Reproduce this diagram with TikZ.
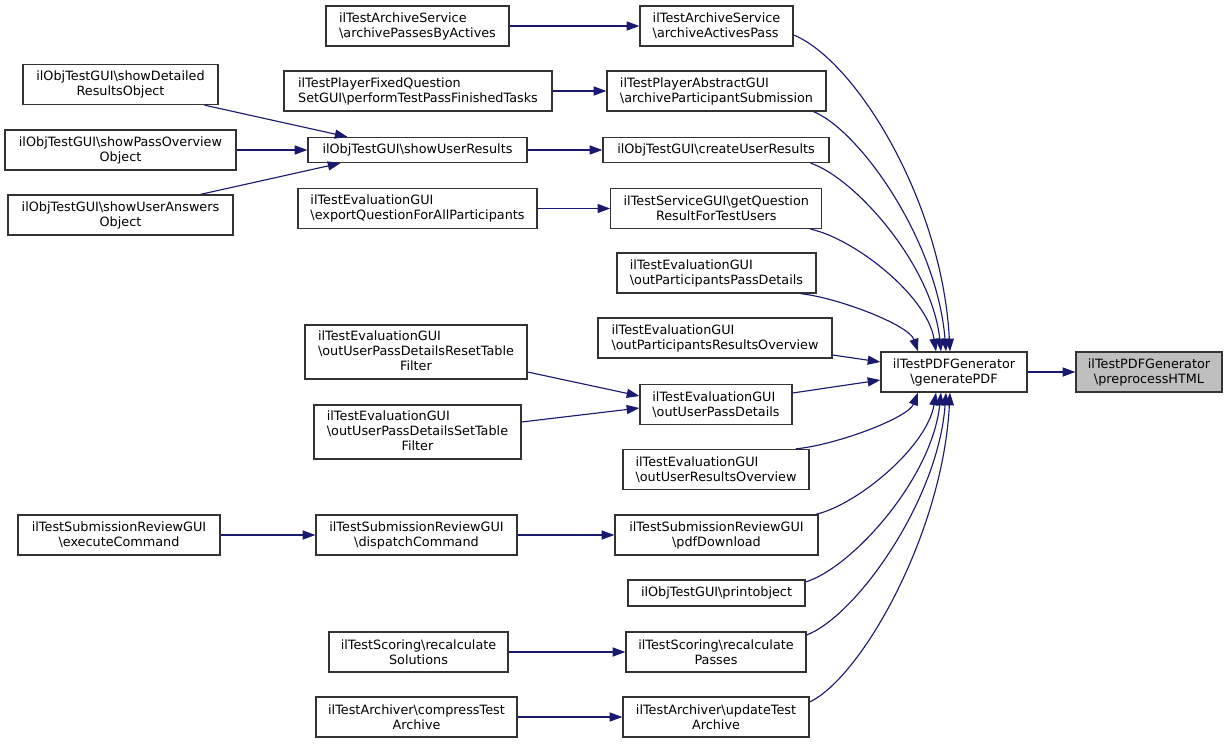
\documentclass[tikz,border=0pt]{standalone}
\usepackage{fontspec}
\setmainfont{DejaVu Sans}
\usetikzlibrary{arrows.meta,calc}
\definecolor{edgec}{HTML}{191970}
\definecolor{bord}{HTML}{333333}
\definecolor{hl}{HTML}{BFBFBF}
\tikzset{
  fn/.style 2 args={draw=bord, line width=0.95pt, fill=white, inner sep=0pt,
    minimum width=#1*0.75pt, minimum height=#2*0.75pt,
    font=\fontsize{9.6}{11.25}\selectfont},
  fl/.style={align=left},
  fc/.style={align=center},
  e/.style={draw=edgec, line width=0.85pt, -{Triangle[length=9.5pt,width=6.8pt]}},
}
\newcommand{\bs}{\textbackslash{}}
\begin{document}
\begin{tikzpicture}[x=0.75pt,y=-0.75pt]
\useasboundingbox (0,0) rectangle (1228,744);
% nodes
\node[fn={183}{40},fl] (apba) at (417.5,26) {ilTestArchiveService\\\bs archivePassesByActives};
\node[fn={153}{40},fl] (aap) at (716.5,26) {ilTestArchiveService\\\bs archiveActivesPass};
\node[fn={268}{40},fl] (ptpft) at (418,91) {ilTestPlayerFixedQuestion\\SetGUI\bs performTestPassFinishedTasks};
\node[fn={219}{40},fl] (aps) at (716.5,91) {ilTestPlayerAbstractGUI\\\bs archiveParticipantSubmission};
\node[fn={195}{40},fc] (sdro) at (120.5,84.5) {ilObjTestGUI\bs showDetailed\\ResultsObject};
\node[fn={231}{40},fc] (spoo) at (120.5,150) {ilObjTestGUI\bs showPassOverview\\Object};
\node[fn={225}{40},fc] (suao) at (120.5,215) {ilObjTestGUI\bs showUserAnswers\\Object};
\node[fn={219}{25}] (sur) at (417.5,150) {ilObjTestGUI\bs showUserResults};
\node[fn={226}{25}] (cur) at (716,150) {ilObjTestGUI\bs createUserResults};
\node[fn={239}{40},fl] (eqfap) at (417.5,208.5) {ilTestEvaluationGUI\\\bs exportQuestionForAllParticipants};
\node[fn={211}{40},fc] (gqr) at (716.3,208.5) {ilTestServiceGUI\bs getQuestion\\ResultForTestUsers};
\node[fn={199}{40},fl] (oppd) at (716.5,273) {ilTestEvaluationGUI\\\bs outParticipantsPassDetails};
\node[fn={234}{40},fl] (opro) at (715,338) {ilTestEvaluationGUI\\\bs outParticipantsResultsOverview};
\node[fn={222}{54}] (rtf) at (416,352) {\begin{tabular}{@{}l@{}}ilTestEvaluationGUI\\\bs outUserPassDetailsResetTable\\\multicolumn{1}{@{}c@{}}{Filter}\end{tabular}};
\node[fn={152}{40},fl] (oupd) at (716,404.5) {ilTestEvaluationGUI\\\bs outUserPassDetails};
\node[fn={207}{54}] (stf) at (417.5,432) {\begin{tabular}{@{}l@{}}ilTestEvaluationGUI\\\bs outUserPassDetailsSetTable\\\multicolumn{1}{@{}c@{}}{Filter}\end{tabular}};
\node[fn={186}{40},fl] (uro) at (716,469.5) {ilTestEvaluationGUI\\\bs outUserResultsOverview};
\node[fn={202}{40},fc] (exc) at (119,535) {ilTestSubmissionReviewGUI\\\bs executeCommand};
\node[fn={201}{40},fc] (disp) at (416.5,535) {ilTestSubmissionReviewGUI\\\bs dispatchCommand};
\node[fn={203}{40},fc] (pdfd) at (716.5,535) {ilTestSubmissionReviewGUI\\\bs pdfDownload};
\node[fn={177}{26}] (prnt) at (716.5,593) {ilObjTestGUI\bs printobject};
\node[fn={179}{40},fc] (rsol) at (418.5,652) {ilTestScoring\bs recalculate\\Solutions};
\node[fn={180}{40},fc] (rpas) at (716,652) {ilTestScoring\bs recalculate\\Passes};
\node[fn={201}{40},fc] (cta) at (416.5,717) {ilTestArchiver\bs compressTest\\Archive};
\node[fn={186}{40},fc] (uta) at (716,717) {ilTestArchiver\bs updateTest\\Archive};
\node[fn={146}{40},fc] (gen) at (954,372) {ilTestPDFGenerator\\\bs generatePDF};
\node[fn={146}{40},fc,fill=hl] (pre) at (1149,372) {ilTestPDFGenerator\\\bs preprocessHTML};
% straight edges
\draw[e] (apba) -- (aap);
\draw[e] (ptpft) -- (aps);
\draw[e] ($(sdro.south)+(84,0)$) -- ($(sur.north)+(-70,0)$);
\draw[e] (spoo) -- (sur);
\draw[e] ($(suao.north)+(80,0)$) -- ($(sur.south)+(-77,0)$);
\draw[e] (sur) -- (cur);
\draw[e] (eqfap) -- (gqr);
\draw[e] ($(rtf.east)+(0,20)$) -- ($(oupd.west)+(0,-8.5)$);
\draw[e] ($(stf.east)+(0,-10)$) -- ($(oupd.west)+(0,3.5)$);
\draw[e] (exc) -- (disp);
\draw[e] (disp) -- (pdfd);
\draw[e] (rsol) -- (rpas);
\draw[e] (cta) -- (uta);
\draw[e] (gen) -- (pre);
\draw[e] ($(opro.east)+(0,17)$) -- ($(gen.west)+(0,-10)$);
\draw[e] ($(oupd.east)+(0,-11.5)$) -- ($(gen.west)+(0,8)$);
% curved edges into generatePDF
\draw[e] ($(aap.east)+(0,9)$) .. controls (855,60) and (942,200) .. ($(gen.north)+(-4,0)$);
\draw[e] ($(aps.south east)+(-13,0)$) .. controls (860,131) and (937,240) .. ($(gen.north)+(-8,0)$);
\draw[e] ($(cur.south east)+(-19,0)$) .. controls (855,178) and (932,265) .. ($(gen.north)+(-13,0)$);
\draw[e] ($(gqr.south east)+(-12,0)$) .. controls (853,238) and (927,295) .. ($(gen.north)+(-18,0)$);
\draw[e] ($(oppd.south east)+(-16,0)$) .. controls (839,298) and (909,325) .. ($(gen.north)+(-36,0)$);
\draw[e] ($(uro.north east)+(-14,0)$) .. controls (836,445) and (908,418) .. ($(gen.south)+(-36,0)$);
\draw[e] ($(pdfd.north east)+(-3,0)$) .. controls (857,505) and (927,447) .. ($(gen.south)+(-18,0)$);
\draw[e] ($(prnt.east)+(0,-11)$) .. controls (853,567) and (932,478) .. ($(gen.south)+(-13,0)$);
\draw[e] ($(rpas.east)+(0,-17)$) .. controls (856,616) and (938,501) .. ($(gen.south)+(-8,0)$);
\draw[e] ($(uta.east)+(0,-15)$) .. controls (862,677) and (943,532) .. ($(gen.south)+(-4,0)$);
\end{tikzpicture}
\end{document}
